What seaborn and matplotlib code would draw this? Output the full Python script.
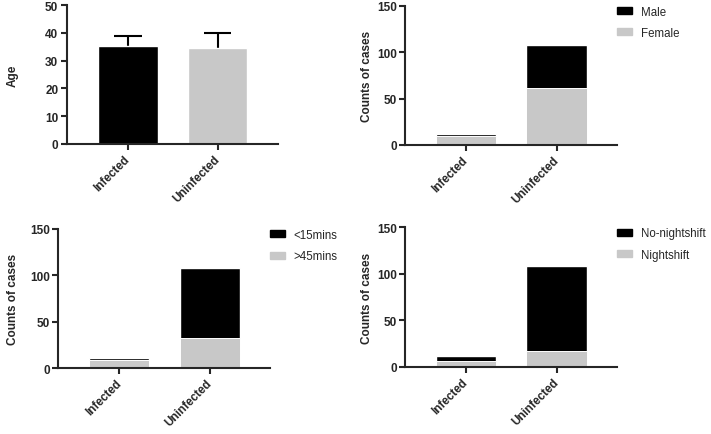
import numpy as np
import pandas as pd
import matplotlib
matplotlib.use('Agg')
import matplotlib.pyplot as plt
import seaborn as sns
from matplotlib.patches import Patch

# data
groups = ['Infected', 'Uninfected']

age_mean = [35.3, 34.7]
age_sd = [3.7, 5.3]

male = [2, 47]
female = [10, 61]

commute_short = [2, 75]   # <15mins
commute_long = [9, 33]    # >45mins

no_nightshift = [6, 91]
nightshift = [6, 17]

BLACK = '#000000'
GREY = '#c8c8c8'

sns.set_theme(style='ticks')
plt.rcParams['font.family'] = ['Liberation Sans', 'DejaVu Sans']

fig = plt.figure(figsize=(7.11, 4.35), dpi=100)
ax1 = fig.add_axes([0.0938, 0.6667, 0.2968, 0.3195])
ax2 = fig.add_axes([0.5696, 0.6644, 0.2982, 0.3200])
ax3 = fig.add_axes([0.0816, 0.1510, 0.2982, 0.3203])
ax4 = fig.add_axes([0.5696, 0.1547, 0.2982, 0.3205])


def style_axis(ax, ylim, yticks, ylabel, label_x):
    ax.set_xlim(-0.68, 1.67)
    ax.set_ylim(*ylim)
    ax.set_yticks(yticks)
    ax.set_xlabel('')
    ax.set_ylabel(ylabel, fontsize=8.5, fontweight='bold')
    ax.yaxis.set_label_coords(label_x, 0.5)
    for s in ['top', 'right']:
        ax.spines[s].set_visible(False)
    for s in ['left', 'bottom']:
        ax.spines[s].set_linewidth(1.5)
    ax.tick_params(axis='both', width=1.5, length=4, labelsize=8.5, pad=2)
    for t in ax.get_yticklabels():
        t.set_fontweight('bold')
    ax.set_xticks([0, 1])
    ax.set_xticklabels(groups, rotation=45, ha='right', va='center',
                       rotation_mode='anchor', fontweight='bold', fontsize=8.4)
    for t in ax.get_xticklabels():
        t.set_y(-0.035)


def stacked(ax, top_vals, bottom_vals, top_name, bottom_name):
    total = np.array(top_vals) + np.array(bottom_vals)
    df_tot = pd.DataFrame({'group': groups, 'n': total})
    df_bot = pd.DataFrame({'group': groups, 'n': bottom_vals})
    sns.barplot(data=df_tot, x='group', y='n', color=BLACK, width=0.667,
                saturation=1, ax=ax)
    sns.barplot(data=df_bot, x='group', y='n', color=GREY, width=0.667,
                saturation=1, edgecolor='white', linewidth=0.7, ax=ax)
    handles = [Patch(color=BLACK, label=top_name),
               Patch(color=GREY, label=bottom_name)]
    ax.legend(handles=handles, loc='upper left', bbox_to_anchor=(1.0, 1.0),
              frameon=False, fontsize=8.3, borderaxespad=0, borderpad=0,
              handlelength=1.3, handleheight=0.55, handletextpad=0.75,
              labelspacing=0.8)


# panel 1: age, error bar drawn upward only
df_age = pd.DataFrame({'group': groups, 'age': age_mean})
sns.barplot(data=df_age, x='group', y='age', hue='group',
            palette=[BLACK, GREY], width=0.667, saturation=1,
            legend=False, ax=ax1, zorder=2)
upper = np.array(age_mean) + np.array(age_sd)
xs = np.arange(len(groups))
ax1.vlines(xs, age_mean, upper, color='black', linewidth=1.5, zorder=1)
ax1.hlines(upper, xs - 0.155, xs + 0.155, color='black', linewidth=1.5,
           zorder=1)
style_axis(ax1, (0, 50), [0, 10, 20, 30, 40, 50], 'Age', -0.226)

# panel 2: sex
stacked(ax2, male, female, 'Male', 'Female')
style_axis(ax2, (0, 150), [0, 50, 100, 150], 'Counts of cases', -0.151)

# panel 3: commute time
stacked(ax3, commute_short, commute_long, '<15mins', '>45mins')
style_axis(ax3, (0, 150), [0, 50, 100, 150], 'Counts of cases', -0.184)

# panel 4: night shift
stacked(ax4, no_nightshift, nightshift, 'No-nightshift', 'Nightshift')
style_axis(ax4, (0, 150), [0, 50, 100, 150], 'Counts of cases', -0.151)

fig.savefig('out.png', dpi=100)
